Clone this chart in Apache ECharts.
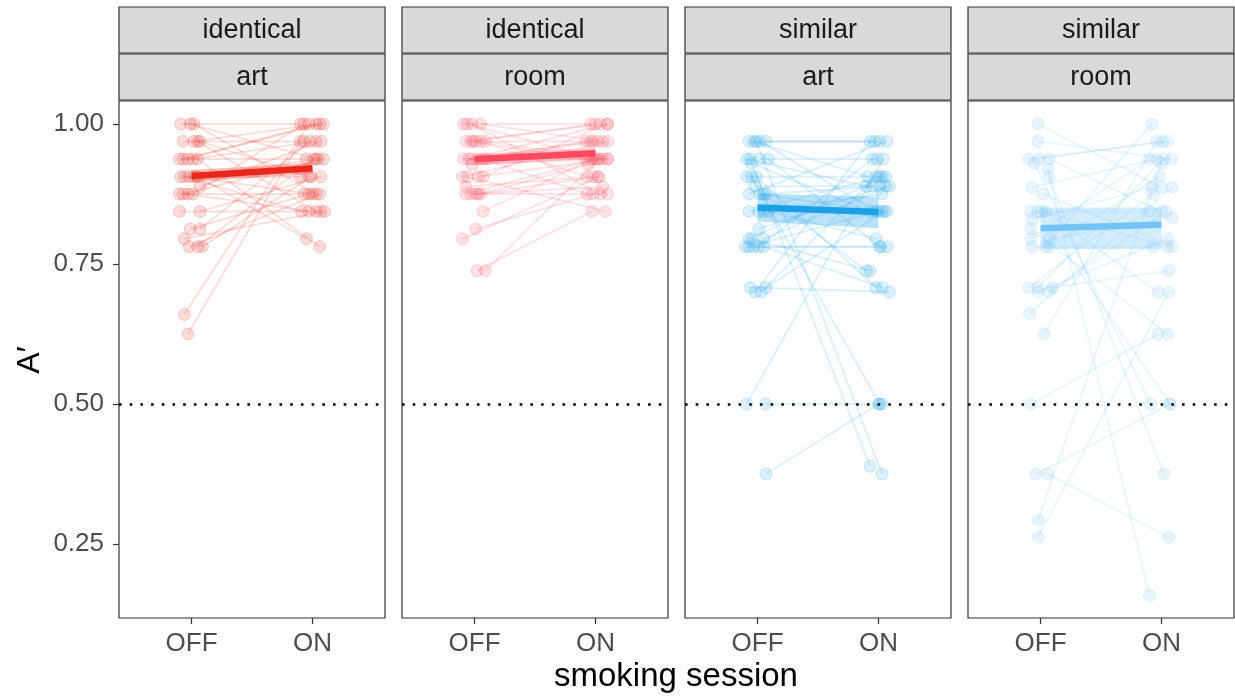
<!DOCTYPE html>
<html><head><meta charset="utf-8">
<script src="https://cdn.jsdelivr.net/npm/echarts@6/dist/echarts.min.js"></script>
<style>html,body{margin:0;padding:0;background:#fff}#c{width:1235px;height:696px}</style>
</head><body><div id="c"></div>
<script>
// ---- data ----
const stripTop = ['identical', 'identical', 'similar', 'similar'];
const stripBottom = ['art', 'room', 'art', 'room'];
const sessions = ['OFF', 'ON'];
const yTicks = [0.25, 0.50, 0.75, 1.00];
const chanceLevel = 0.5;
const xTitle = 'smoking session';
const yTitle = 'A\u2032';

// identical / art
const idArtOff = [1,1,1,.969,.969,.969,.969,.9375,.9375,.9375,.9375,.906,.906,.906,.906,.888,.875,.875,.875,.875,.844,.844,.8125,.8125,.795,.781,.781,.781,.66,.625,.906,.9375];
const idArtOn  = [1,.9375,.875,.969,1,.844,.906,.9375,1,.969,.781,.906,.844,.9375,.795,.969,.875,.9375,.844,1,.844,.906,.875,.969,.844,.875,.9375,.906,1,.969,.875,1];
const idArtOffJit = [-0.09,-0.01,0.02,-0.07,0.02,0.05,0.07,-0.10,-0.07,0.01,0.05,-0.09,-0.06,0.02,0.05,0.07,-0.10,-0.07,-0.03,0.01,-0.10,0.07,-0.01,0.07,-0.06,-0.02,0.05,0.09,-0.06,-0.03,-0.02,-0.03];
const idArtOnJit  = [-0.10,0.03,0.03,-0.07,0.06,0.03,-0.03,-0.05,0.09,0.03,0.06,-0.10,-0.09,0.05,-0.05,0.07,-0.07,0.09,-0.03,-0.07,0.07,0.07,-0.03,-0.02,0.10,0.06,0.01,-0.01,-0.03,-0.10,0.00,0.03];

// identical / room
const idRoomOff = [1,1,1,1,.969,.969,.969,.969,.969,.9375,.9375,.9375,.9375,.9375,.928,.906,.906,.906,.906,.888,.875,.875,.875,.875,.844,.8125,.795,.738,.738,.969,.9375,.875];
const idRoomOn  = [1,.9375,.875,.969,1,.9375,.969,.906,.9375,.9375,1,.969,.875,.969,.9375,.969,.844,.9375,1,.906,.9375,.888,.906,.928,.9375,.875,.906,.844,.9375,1,.969,.875];
const idRoomOffJit = [-0.09,-0.06,-0.02,0.05,-0.07,-0.03,0.01,0.05,0.09,-0.09,-0.03,0.02,0.07,0.10,-0.02,-0.10,-0.06,0.03,0.07,-0.07,-0.07,0.01,0.03,0.05,0.07,0.01,-0.10,0.02,0.09,-0.01,-0.05,-0.03];
const idRoomOnJit  = [-0.04,0.02,0.04,0.06,0.04,-0.08,-0.04,-0.07,0.10,-0.04,0.10,-0.08,-0.07,0.02,0.06,0.10,0.08,0.10,0.10,-0.02,0.00,0.06,0.02,-0.06,-0.02,-0.02,0.03,-0.03,0.03,0.00,-0.02,0.10];

// similar / art
const simArtOff = [.969,.969,.969,.969,.969,.9375,.9375,.9375,.9375,.93,.906,.906,.906,.889,.875,.875,.875,.875,.844,.844,.844,.844,.8125,.795,.795,.795,.781,.781,.781,.781,.781,.708,.708,.70,.70,.5,.5,.375];
const simArtOn  = [.969,.906,.375,.844,.969,.889,.389,.9375,.781,.844,.906,.5,.708,.889,.969,.844,.738,.889,.906,.875,.844,.795,.889,.906,.738,.889,.781,.844,.781,.9375,.708,.70,.844,.969,.906,.9375,.5,.5];
const simArtOffJit = [-0.07,-0.03,-0.01,0.02,0.07,-0.09,-0.06,0.02,0.09,-0.05,-0.09,-0.05,-0.01,-0.02,-0.07,0.02,0.05,0.07,-0.07,0.01,0.05,0.09,0.01,-0.07,-0.05,0.05,-0.10,-0.07,-0.03,0.01,0.05,-0.06,0.07,-0.02,0.03,-0.09,0.07,0.07];
const simArtOnJit  = [-0.03,-0.09,0.03,-0.02,0.01,-0.10,-0.07,-0.01,0.01,-0.07,0.01,0.01,-0.02,-0.05,0.07,0.03,-0.10,0.01,0.03,0.03,0.07,-0.02,0.06,0.06,-0.07,0.09,0.07,0.00,0.02,-0.05,0.03,0.09,0.05,-0.07,-0.02,0.04,0.03,0.00];

// similar / room
const simRoomOff = [1,.969,.9375,.93,.9375,.92,.906,.887,.875,.844,.844,.844,.83,.813,.795,.795,.781,.781,.781,.708,.708,.708,.70,.70,.662,.625,.5,.375,.375,.293,.2625,.844,.9375];
const simRoomOn  = [.887,.9375,.969,.5,.844,.158,.375,.9375,.781,.844,.5,.70,.887,.625,.9375,.833,.781,1,.906,.875,.9375,.738,.795,.844,.887,.969,.625,.5,.2625,.93,.70,.781,.969];
const simRoomOffJit = [-0.02,-0.02,-0.10,-0.05,0.07,0.06,0.07,-0.07,0.02,-0.08,-0.02,0.04,-0.07,-0.08,-0.08,0.07,-0.07,0.04,0.07,-0.10,-0.02,0.10,-0.02,0.07,-0.09,0.03,-0.08,-0.04,0.06,-0.02,-0.02,0.01,-0.01];
const simRoomOnJit  = [0.00,0.08,0.05,-0.09,0.00,-0.10,0.02,-0.04,0.09,-0.10,0.07,-0.03,-0.08,0.05,-0.10,0.09,-0.07,-0.08,-0.02,-0.07,0.02,0.06,0.05,0.04,0.09,-0.04,-0.03,0.07,0.06,0.00,0.06,0.05,0.01];

// group means and confidence band
const meanOff   = [0.907, 0.937, 0.851, 0.814];
const meanOn    = [0.921, 0.948, 0.843, 0.820];
const ciOffLow  = [0.897, 0.927, 0.826, 0.777];
const ciOffHigh = [0.918, 0.946, 0.876, 0.851];
const ciOnLow   = [0.911, 0.938, 0.814, 0.777];
const ciOnHigh  = [0.931, 0.957, 0.870, 0.851];

// ---- styling / layout ----
const panelColors = [[232,40,28],[251,74,95],[26,159,233],[115,195,247]];
const panelData = [
  [idArtOff, idArtOn, idArtOffJit, idArtOnJit],
  [idRoomOff, idRoomOn, idRoomOffJit, idRoomOnJit],
  [simArtOff, simArtOn, simArtOffJit, simArtOnJit],
  [simRoomOff, simRoomOn, simRoomOffJit, simRoomOnJit]
];
const FONT = '"Liberation Sans", Arial, Helvetica, sans-serif';
const gridLeft = [119, 402, 685, 968];
const gridW = 266;
const gridTop = 101, gridH = 517;
const yMin = 0.1179, yMax = 1.0411;

const rgba = (c, a) => `rgba(${c[0]},${c[1]},${c[2]},${a})`;

const grids = [], xAxes = [], yAxes = [], series = [], graphics = [];
for (let i = 0; i < 4; i++) {
  const c = panelColors[i];
  grids.push({left: gridLeft[i], top: gridTop, width: gridW, height: gridH, show: true,
    borderColor: '#333', borderWidth: 1.2, backgroundColor: '#fff'});
  xAxes.push({gridIndex: i, type: 'value', min: 0.4, max: 2.6,
    axisLine: {show: false}, splitLine: {show: false},
    axisTick: {show: true, customValues: [1, 2], length: 6, lineStyle: {color: '#333', width: 1.2}},
    axisLabel: {customValues: [1, 2], formatter: v => sessions[Math.round(v) - 1],
      color: '#4d4d4d', fontSize: 26, fontFamily: FONT, margin: 13}});
  yAxes.push({gridIndex: i, type: 'value', min: yMin, max: yMax,
    axisLine: {show: false}, splitLine: {show: false},
    axisTick: {show: i === 0, customValues: yTicks, length: 6, lineStyle: {color: '#333', width: 1.2}},
    axisLabel: {show: i === 0, customValues: yTicks, formatter: v => v.toFixed(2),
      color: '#4d4d4d', fontSize: 26, fontFamily: FONT, margin: 15}});

  const [off, on, offJ, onJ] = panelData[i];
  const segs = off.map((v, k) => [1 + offJ[k], v, 2 + onJ[k], on[k]]);
  const pts = off.map((v, k) => [1 + offJ[k], v]).concat(on.map((v, k) => [2 + onJ[k], v]));

  series.push({type: 'custom', xAxisIndex: i, yAxisIndex: i, silent: true, z: 1,
    encode: {x: [0, 2], y: [1, 3]}, data: segs,
    renderItem: (p, api) => {
      const a = api.coord([api.value(0), api.value(1)]);
      const b = api.coord([api.value(2), api.value(3)]);
      return {type: 'line', shape: {x1: a[0], y1: a[1], x2: b[0], y2: b[1]},
        style: {stroke: rgba(c, 0.15), lineWidth: 2}};
    }});
  series.push({type: 'scatter', xAxisIndex: i, yAxisIndex: i, silent: true, z: 2,
    symbolSize: 12, data: pts,
    itemStyle: {color: rgba(c, 0.2), borderColor: rgba(c, 0.25), borderWidth: 1}});
  series.push({type: 'custom', xAxisIndex: i, yAxisIndex: i, silent: true, z: 3,
    encode: {x: [0, 3], y: [1, 2, 4, 5]},
    data: [[1, ciOffLow[i], ciOffHigh[i], 2, ciOnLow[i], ciOnHigh[i]]],
    renderItem: (p, api) => {
      const p1 = api.coord([api.value(0), api.value(2)]);
      const p2 = api.coord([api.value(3), api.value(5)]);
      const p3 = api.coord([api.value(3), api.value(4)]);
      const p4 = api.coord([api.value(0), api.value(1)]);
      return {type: 'polygon', shape: {points: [p1, p2, p3, p4]},
        style: {fill: rgba(c, 0.3)}};
    }});
  series.push({type: 'line', xAxisIndex: i, yAxisIndex: i, silent: true, z: 4,
    data: [[1, meanOff[i]], [2, meanOn[i]]], symbol: 'none',
    lineStyle: {color: rgba(c, 1), width: 6.5, cap: 'butt'}});
  series.push({type: 'line', xAxisIndex: i, yAxisIndex: i, silent: true, z: 5,
    data: [], markLine: {silent: true, symbol: 'none', label: {show: false},
      lineStyle: {color: '#000', width: 2.6, type: [2.6, 8.1]},
      data: [{yAxis: chanceLevel}]}});

  // facet strips
  [[stripTop[i], 7], [stripBottom[i], 54]].forEach(([txt, y]) => {
    graphics.push({type: 'rect', shape: {x: gridLeft[i], y: y, width: gridW, height: 46},
      style: {fill: '#d9d9d9', stroke: '#333', lineWidth: 1.2}});
    graphics.push({type: 'text', x: gridLeft[i] + gridW / 2, y: y + 24,
      style: {text: txt, fill: '#1a1a1a', font: `27px ${FONT}`, align: 'center', verticalAlign: 'middle'}});
  });
}
graphics.push({type: 'text', x: 676, y: 677,
  style: {text: xTitle, fill: '#000', font: `33px ${FONT}`, align: 'center', verticalAlign: 'middle'}});
graphics.push({type: 'text', x: 30, y: 360, rotation: Math.PI / 2,
  style: {text: yTitle, fill: '#000', font: `32px ${FONT}`, align: 'center', verticalAlign: 'middle'}});

const chart = echarts.init(document.getElementById('c'), null, {renderer: 'canvas'});
chart.setOption({animation: false, backgroundColor: '#fff',
  grid: grids, xAxis: xAxes, yAxis: yAxes, series: series, graphic: graphics});
</script></body></html>
